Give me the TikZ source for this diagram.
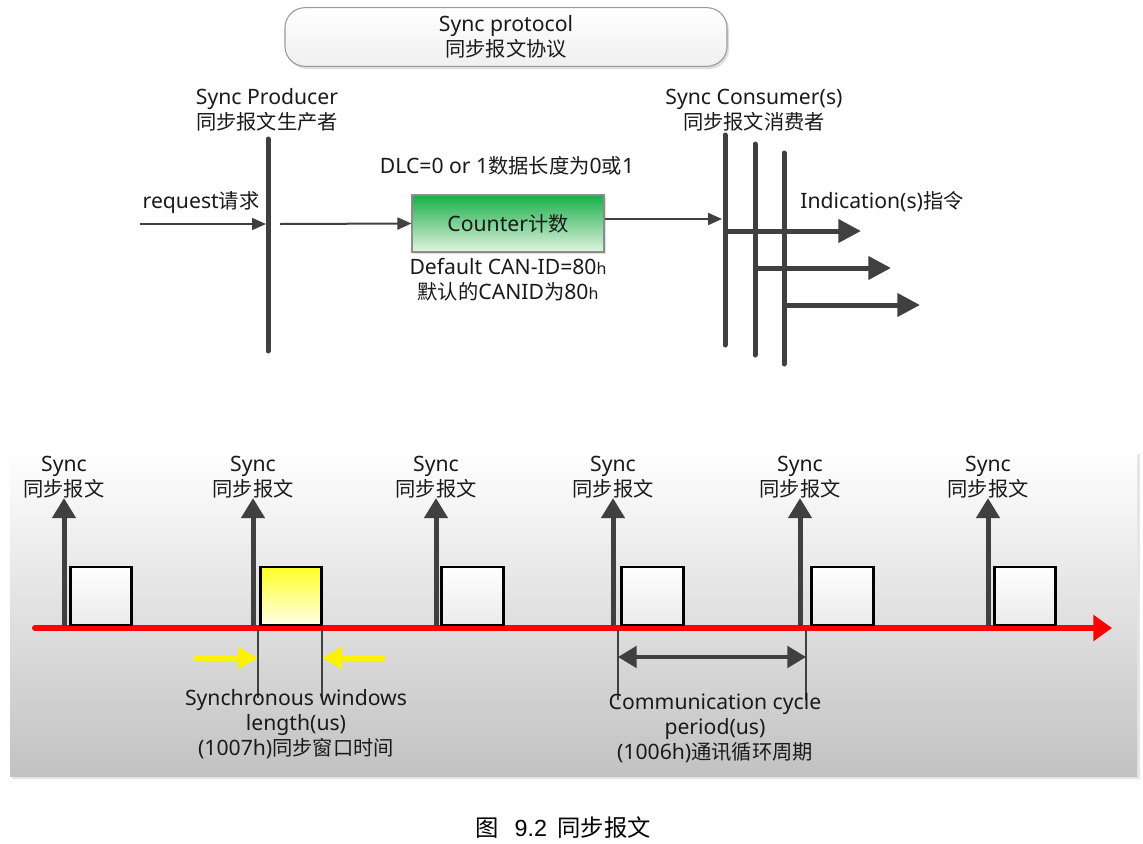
\documentclass[tikz,border=0pt]{standalone}
\usepackage{fontspec}
\setmainfont{Noto Sans}[Scale=1.045]
\newfontfamily\cjk{Noto Sans CJK SC}
\newfontfamily\capfont{Liberation Sans}
\usetikzlibrary{arrows.meta,shadows}
\definecolor{dk}{HTML}{404040}
\definecolor{txt}{HTML}{1A1A1A}
\definecolor{grn}{HTML}{18AE48}
\definecolor{grnl}{HTML}{E2F4E2}
\tikzset{
  lbl/.style={align=center, text=txt, inner sep=0pt},
  thickbar/.style={draw=dk, line width=3.75pt, line cap=round},
  thinarrow/.style={draw=dk, line width=1.5pt, -{Triangle[length=10.5pt,width=9pt]}},
  bigarrow/.style={draw=dk, line width=3.75pt, -{Triangle[length=17pt,width=17pt]}},
  syncarrow/.style={draw=dk, line width=3.75pt, -{Triangle[length=15pt,width=17pt]}},
  yelarrow/.style={draw=yellow, line width=3.75pt, line cap=round, -{Triangle[length=15pt,width=16pt]}},
  slot/.style={draw=black, line width=2.2pt, top color=white, bottom color=white!92!black, minimum width=46pt, minimum height=43.5pt, inner sep=0pt},
  guide/.style={draw=dk, line width=1.1pt},
}
\newcommand{\hsmall}{{\fontsize{11.5}{11.5}\selectfont h}}
\begin{document}
\begin{tikzpicture}[x=0.75pt,y=-0.75pt, font=\fontsize{15.2}{18.75}\selectfont]
\useasboundingbox (0,0) rectangle (1143,843);
\fill[white] (0,0) rectangle (1143,843);

% ---------- title ----------
\node[lbl, draw=black!40, line width=0.8pt, rounded corners=15pt, top color=white, bottom color=black!6,
      drop shadow={shadow xshift=1.5pt, shadow yshift=-2pt, fill=black!25},
      minimum width=331.5pt, minimum height=44pt] (title) at (506,37)
      {Sync protocol\\{\cjk 同步报文协议}};

% ---------- producer ----------
\node[lbl] (prodlbl) at (267,110) {Sync Producer\\{\cjk 同步报文生产者}};
\coordinate (ptop) at (268,139);
\coordinate (pbot) at (268,351);
\draw[thickbar] (ptop) -- (pbot);
\coordinate (reqstart) at (140,224);
\coordinate (preq) at (266,224);
\draw[thinarrow] (reqstart) -- (preq);
\node[lbl] (reqlbl) at (201,203) {request{\cjk 请求}};
\coordinate (pout) at (280,224);

% ---------- counter ----------
\node[lbl, draw=black!45, line width=0.8pt, top color=grn, bottom color=grnl,
      drop shadow={shadow xshift=1.5pt, shadow yshift=-1.5pt, fill=black!25},
      minimum width=144pt, minimum height=42.75pt] (counter) at (508,223.5) {Counter{\cjk 计数}};
\draw[thinarrow] (pout) -- (counter.west);
\node[lbl] (dlc) at (507,166) {DLC=0 or 1{\cjk 数据长度为}0{\cjk 或}1};
\node[lbl] (canid) at (508,280) {Default CAN-ID=80\hsmall\\{\cjk 默认的}CANID{\cjk 为}80\hsmall};

% ---------- consumers ----------
\node[lbl] (conslbl) at (754,110) {Sync Consumer(s)\\{\cjk 同步报文消费者}};
\coordinate (c1t) at (725,135); \coordinate (c1b) at (725,345);
\coordinate (c2t) at (755,144); \coordinate (c2b) at (755,355);
\coordinate (c3t) at (784,153); \coordinate (c3b) at (784,364);
\draw[thickbar] (c1t) -- (c1b);
\draw[thickbar] (c2t) -- (c2b);
\draw[thickbar] (c3t) -- (c3b);
\coordinate (cin) at (722,219);
\draw[thinarrow] (counter.east |- cin) -- (cin);
\coordinate (i1s) at (725,231); \coordinate (i1e) at (861,231);
\coordinate (i2s) at (755,268); \coordinate (i2e) at (891,268);
\coordinate (i3s) at (784,305); \coordinate (i3e) at (920,305);
\draw[bigarrow] (i1s) -- (i1e);
\draw[bigarrow] (i2s) -- (i2e);
\draw[bigarrow] (i3s) -- (i3e);
\node[lbl] (indlbl) at (882,202) {Indication(s){\cjk 指令}};

% ---------- bottom panel ----------
\fill[black!10] (12,454) rectangle (1140,779);
\shade[top color=white, bottom color=black!24] (10,451) rectangle (1137,776);

% red time axis
\coordinate (axs) at (35,628);
\coordinate (axe) at (1112,628);
\draw[draw=red, line width=4.5pt, line cap=round, -{Triangle[length=14pt,width=19pt]}] (axs) -- (axe);

% slots
\node[slot] (b1) at (101,596) {};
\node[slot, top color=yellow!85!white, bottom color=yellow!8!white] (b2) at (291,596) {};
\node[slot] (b3) at (472.5,596) {};
\node[slot] (b4) at (652.5,596) {};
\node[slot] (b5) at (842.5,596) {};
\node[slot] (b6) at (1025,596) {};

% sync arrows and labels
\foreach \n/\x in {1/64,2/253,3/436,4/613,5/800,6/988}{
  \coordinate (s\n b) at (\x,626);
  \coordinate (s\n t) at (\x,498);
  \draw[syncarrow] (s\n b) -- (s\n t);
  \node[lbl] (sl\n) at (\x,477.5) {Sync\\{\cjk 同步报文}};
}

% synchronous window
\coordinate (w1t) at (258,630); \coordinate (w1b) at (258,698);
\coordinate (w2t) at (322,630); \coordinate (w2b) at (322,698);
\draw[guide] (w1t) -- (w1b);
\draw[guide] (w2t) -- (w2b);
\coordinate (ya1) at (196,658); \coordinate (ya2) at (383,658);
\draw[yelarrow] (ya1) -- (w1b |- ya1);
\draw[yelarrow] (ya2) -- (w2b |- ya2);
\node[lbl] (winlbl) at (296,724) {Synchronous windows\\length(us)\\(1007h){\cjk 同步窗口时间}};

% communication cycle
\coordinate (p1t) at (618,630); \coordinate (p1b) at (618,700);
\coordinate (p2t) at (806,630); \coordinate (p2b) at (806,700);
\draw[guide] (p1t) -- (p1b);
\draw[guide] (p2t) -- (p2b);
\draw[draw=dk, line width=3pt, {Triangle[length=14pt,width=16pt]}-{Triangle[length=14pt,width=16pt]}] (p1b |- 0,657) -- (p2b |- 0,657);
\node[lbl] (perlbl) at (715,728) {Communication cycle\\period(us)\\(1006h){\cjk 通讯循环周期}};

% caption
\node[lbl, text=black, font=\fontsize{17.5}{20}\selectfont\cjk] (cap) at (563,828) {图\hspace{0.7em}{\capfont 9.2}\hspace{0.45em}同步报文};
\end{tikzpicture}
\end{document}
